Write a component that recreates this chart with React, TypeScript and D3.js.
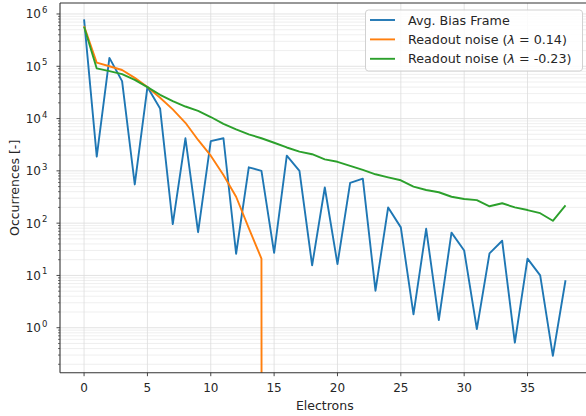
import * as d3 from 'd3'

// electrons per pixel bin
const electrons = [0, 1, 2, 3, 4, 5, 6, 7, 8, 9, 10, 11, 12, 13, 14, 15, 16, 17, 18, 19, 20, 21, 22, 23, 24, 25, 26, 27, 28, 29, 30, 31, 32, 33, 34, 35, 36, 37, 38]

const biasFrame = [7.9e5, 1870, 1.45e5, 5.2e4, 550, 4.0e4, 1.56e4, 96, 4200, 67, 3700, 4200, 26, 1170, 1000, 27, 1950, 1000, 15.6, 480, 16.5, 590, 710, 5.1, 200, 83, 1.8, 78, 1.4, 66, 30, 0.94, 26.5, 46, 0.52, 21, 10, 0.29, 8.1]

const noisePos = [5.9e5, 1.17e5, 1.0e5, 8.5e4, 6.0e4, 4.0e4, 2.5e4, 1.5e4, 8300, 3900, 1950, 830, 320, 80, 21, 0, 0, 0, 0, 0, 0, 0, 0, 0, 0, 0, 0, 0, 0, 0, 0, 0, 0, 0, 0, 0, 0, 0, 0]

const noiseNeg = [5.7e5, 9.1e4, 8.1e4, 7.1e4, 5.5e4, 4.0e4, 2.85e4, 2.15e4, 1.7e4, 1.4e4, 1.07e4, 7900, 6200, 5000, 4200, 3450, 2800, 2330, 2080, 1660, 1490, 1250, 1040, 860, 750, 660, 500, 430, 390, 320, 290, 275, 210, 240, 200, 178, 155, 111, 218]

const xTicks = [0, 5, 10, 15, 20, 25, 30, 35]
const yDecades = [0, 1, 2, 3, 4, 5, 6]

const series = [
  { name: 'Avg. Bias Frame', values: biasFrame, color: '#1f77b4' },
  { name: 'Readout noise', lambda: '0.14', values: noisePos, color: '#ff7f0e' },
  { name: 'Readout noise', lambda: '-0.23', values: noiseNeg, color: '#2ca02c' },
]

const width = 586
const height = 416
const left = 60
const right = 589.6
const top = 3
const bottom = 372.7
const font = 'DejaVu Sans, sans-serif'

export default function App() {
  const x = d3.scaleLinear().domain([-1.9, 39.9]).range([left, right])
  const y = d3.scaleLog().domain([Math.pow(10, -0.86), Math.pow(10, 6.21)]).range([bottom, top])

  // minor log ticks 2..9 per decade
  const minor: number[] = []
  for (let k = -1; k <= 6; k++) {
    for (let m = 2; m <= 9; m++) {
      const v = m * Math.pow(10, k)
      if (v >= y.domain()[0] && v <= y.domain()[1]) minor.push(v)
    }
  }

  const line = d3.line<number>()
    .x((_, i) => x(electrons[i]))
    .y(d => y(d > 0 ? d : 1e-300))

  return (
    <svg width={width} height={height} style={{ position: 'absolute', left: 0, top: 0 }} fontFamily={font}>
      <defs>
        <clipPath id="plot">
          <rect x={left} y={top} width={right - left} height={bottom - top} />
        </clipPath>
      </defs>
      <rect width={width} height={height} fill="white" />

      {/* grid */}
      <g>
        {minor.map(v => (
          <line key={'mg' + v} x1={left} x2={right} y1={y(v)} y2={y(v)} stroke="#ebebeb" strokeWidth={0.8} />
        ))}
        {yDecades.map(d => (
          <line key={'yg' + d} x1={left} x2={right} y1={y(Math.pow(10, d))} y2={y(Math.pow(10, d))} stroke="#dcdcdc" strokeWidth={0.8} />
        ))}
        {xTicks.map(t => (
          <line key={'xg' + t} x1={x(t)} x2={x(t)} y1={top} y2={bottom} stroke="#dcdcdc" strokeWidth={0.8} />
        ))}
      </g>

      <g clipPath="url(#plot)" fill="none" strokeWidth={1.9} strokeLinejoin="round">
        {series.map((s, i) => (
          <path key={i} d={line(s.values) || ''} stroke={s.color} />
        ))}
      </g>

      {/* spines */}
      <g stroke="#333" strokeWidth={1.1}>
        <line x1={left} x2={left} y1={top} y2={bottom} />
        <line x1={left} x2={right} y1={bottom} y2={bottom} />
        <line x1={left} x2={right} y1={top} y2={top} />
      </g>

      {/* x axis */}
      <g fontSize={12} fill="#262626" textAnchor="middle">
        {xTicks.map(t => (
          <g key={'xt' + t}>
            <line x1={x(t)} x2={x(t)} y1={bottom} y2={bottom + 3.5} stroke="#333" strokeWidth={0.9} />
            <text x={x(t)} y={392}>{t}</text>
          </g>
        ))}
        <text x={(left + right) / 2} y={410} fontSize={12.5}>Electrons</text>
      </g>

      {/* y axis */}
      <g fill="#262626">
        {minor.map(v => (
          <line key={'mt' + v} x1={left - 2} x2={left} y1={y(v)} y2={y(v)} stroke="#333" strokeWidth={0.7} />
        ))}
        {yDecades.map(d => (
          <g key={'yt' + d}>
            <line x1={left - 3.5} x2={left} y1={y(Math.pow(10, d))} y2={y(Math.pow(10, d))} stroke="#333" strokeWidth={0.9} />
            <text x={41} y={y(Math.pow(10, d)) + 4.5} fontSize={12} textAnchor="end">10</text>
            <text x={42} y={y(Math.pow(10, d)) - 1} fontSize={8.5}>{d}</text>
          </g>
        ))}
        <text transform={`translate(19,${(top + bottom) / 2}) rotate(-90)`} textAnchor="middle" fontSize={12.5}>Occurrences [-]</text>
      </g>

      {/* legend */}
      <g>
        <rect x={365.5} y={10} width={217} height={61} rx={3} fill="white" fillOpacity={0.85} stroke="#cccccc" strokeWidth={0.9} />
        {series.map((s, i) => {
          const ly = 20 + i * 19.4
          return (
            <g key={'lg' + i}>
              <line x1={370} x2={395} y1={ly} y2={ly} stroke={s.color} strokeWidth={1.9} />
              <text x={408} y={ly + 4.5} fontSize={12.7} fill="#262626">
                {s.lambda ? (
                  <>
                    {s.name} (<tspan fontStyle="italic">λ</tspan> = {s.lambda})
                  </>
                ) : s.name}
              </text>
            </g>
          )
        })}
      </g>
    </svg>
  )
}
